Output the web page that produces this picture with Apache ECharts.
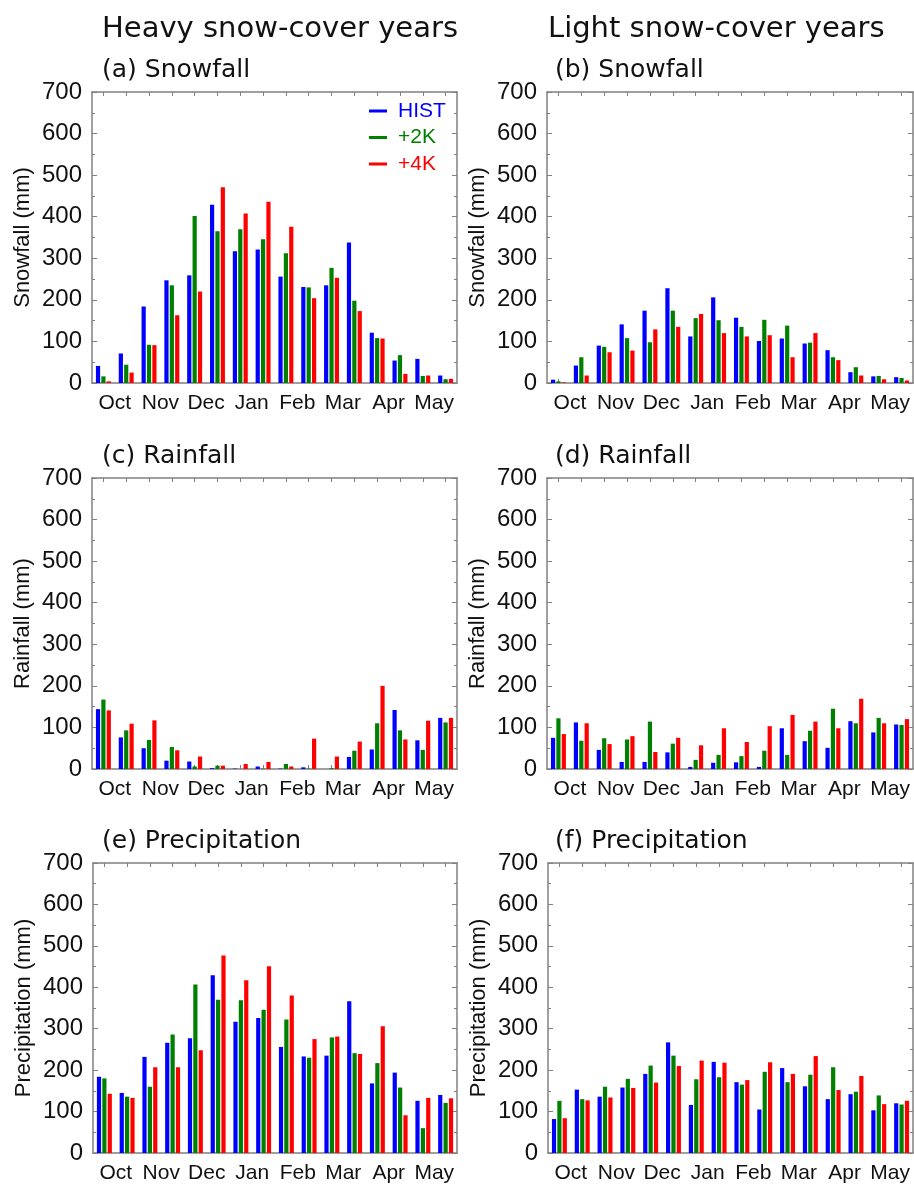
<!DOCTYPE html>
<html><head><meta charset="utf-8">
<script src="https://cdn.jsdelivr.net/npm/echarts@6/dist/echarts.min.js"></script>
<style>html,body{margin:0;padding:0;background:#fff}#c{width:914px;height:1184px}</style>
</head><body><div id="c"></div>
<script>
const halves = ['Oct-1','Oct-2','Nov-1','Nov-2','Dec-1','Dec-2','Jan-1','Jan-2','Feb-1','Feb-2','Mar-1','Mar-2','Apr-1','Apr-2','May-1','May-2'];
const months = ['Oct','Nov','Dec','Jan','Feb','Mar','Apr','May'];
const seriesNames = ['HIST','+2K','+4K'];
const seriesColors = ['#0000ff','#008000','#ff0000'];

const snowHeavyHist = [41,71,184,247,259,429,317,321,256,231,235,338,121,54,58,18];
const snowHeavy2K   = [16,44,92,235,402,365,370,346,312,230,277,198,108,67,17,9];
const snowHeavy4K   = [4,25,91,163,220,471,408,436,376,204,253,173,107,22,18,10];

const snowLightHist = [8,42,90,141,174,228,112,206,157,101,107,95,79,26,16,14];
const snowLight2K   = [4,62,87,108,98,174,156,151,135,152,138,97,62,38,17,12];
const snowLight4K   = [1.5,18,74,78,129,135,166,120,112,115,62,120,55,18,9,6];

const rainHeavyHist = [144,76,50,20,18,2,1,6,1,4,0,29,47,142,69,123];
const rainHeavy2K   = [167,93,70,53,6,8,0,1,12,1,2,44,110,93,46,112];
const rainHeavy4K   = [141,109,117,45,30,8,12,17,6,73,30,66,200,71,116,123];

const rainLightHist = [75,112,46,17,17,40,5,15,16,5,98,67,51,115,88,107];
const rainLight2K   = [122,68,74,71,114,61,22,34,31,44,34,92,145,110,123,106];
const rainLight4K   = [84,110,60,79,41,75,57,98,65,103,130,114,98,169,110,120];

const precHeavyHist = [184,145,232,266,277,429,317,326,256,233,235,366,168,194,126,140];
const precHeavy2K   = [180,136,160,286,407,370,369,346,322,230,279,241,217,158,60,121];
const precHeavy4K   = [143,133,207,207,248,477,417,451,380,275,281,239,306,91,133,132];

const precLightHist = [82,153,136,158,191,267,116,220,171,105,205,161,130,142,103,120];
const precLight2K   = [126,130,160,179,211,235,178,183,165,196,171,189,207,148,139,117];
const precLight4K   = [84,127,134,157,170,210,223,218,176,219,191,234,152,186,118,126];

const yMin = 0, yMax = 700, yStep = 100;

const panels = [
  {label:'(a) Snowfall', yName:'Snowfall (mm)', data:[snowHeavyHist,snowHeavy2K,snowHeavy4K]},
  {label:'(b) Snowfall', yName:'Snowfall (mm)', data:[snowLightHist,snowLight2K,snowLight4K]},
  {label:'(c) Rainfall', yName:'Rainfall (mm)', data:[rainHeavyHist,rainHeavy2K,rainHeavy4K]},
  {label:'(d) Rainfall', yName:'Rainfall (mm)', data:[rainLightHist,rainLight2K,rainLight4K]},
  {label:'(e) Precipitation', yName:'Precipitation (mm)', data:[precHeavyHist,precHeavy2K,precHeavy4K]},
  {label:'(f) Precipitation', yName:'Precipitation (mm)', data:[precLightHist,precLight2K,precLight4K]}
];

const gridPos = [
  {left:92, top:92, width:365, height:291},
  {left:547, top:92, width:366, height:291},
  {left:92, top:478, width:365, height:291},
  {left:547, top:478, width:366, height:291},
  {left:93, top:863, width:364, height:291},
  {left:548, top:863, width:365, height:291}
];
const labelPos = [[97,53],[550,53],[97,439],[550,439],[97,824],[550,824]];

const axisGray = '#808080';
const txt = '#111111';
const grids = [], xAxes = [], yAxes = [], series = [];
const titles = [
  {text:'Heavy snow-cover years', left:97, top:10, textStyle:{fontFamily:'DejaVu Sans', fontSize:29, fontWeight:'normal', color:txt}},
  {text:'Light snow-cover years', left:543, top:10, textStyle:{fontFamily:'DejaVu Sans', fontSize:29, fontWeight:'normal', color:txt}}
];

panels.forEach((p, i) => {
  grids.push(Object.assign({containLabel:false}, gridPos[i]));
  titles.push({text:p.label, left:labelPos[i][0], top:labelPos[i][1], textStyle:{fontFamily:'DejaVu Sans', fontSize:25, fontWeight:'normal', color:txt}});
  const xi = xAxes.length;
  xAxes.push({type:'category', gridIndex:i, data:halves, position:'bottom', boundaryGap:true,
    axisLine:{show:true, lineStyle:{color:axisGray, width:1.5}},
    axisTick:{show:true, inside:true, alignWithLabel:true, interval:0, length:4, lineStyle:{color:axisGray}},
    axisLabel:{show:false}, splitLine:{show:false}});
  xAxes.push({type:'category', gridIndex:i, data:months, position:'bottom', boundaryGap:true,
    axisLine:{show:false}, axisTick:{show:false},
    axisLabel:{show:true, interval:0, margin:10, fontFamily:'Liberation Sans', fontSize:21, color:txt}, splitLine:{show:false}});
  xAxes.push({type:'category', gridIndex:i, data:halves, position:'top', boundaryGap:true,
    axisLine:{show:true, lineStyle:{color:axisGray, width:1.5}},
    axisTick:{show:true, inside:true, alignWithLabel:true, interval:0, length:4, lineStyle:{color:axisGray}},
    axisLabel:{show:false}, splitLine:{show:false}});
  const yi = yAxes.length;
  yAxes.push({type:'value', gridIndex:i, min:yMin, max:yMax, interval:yStep, position:'left',
    name:p.yName, nameLocation:'middle', nameGap:58, nameRotate:90,
    nameTextStyle:{fontFamily:'Liberation Sans', fontSize:22, color:txt},
    axisLine:{show:true, lineStyle:{color:axisGray, width:1.5}},
    axisTick:{show:true, inside:true, length:5, lineStyle:{color:axisGray}},
    minorTick:{show:true, splitNumber:2, length:3, lineStyle:{color:axisGray}},
    axisLabel:{fontFamily:'Liberation Sans', fontSize:24, color:txt, margin:10},
    splitLine:{show:false}});
  yAxes.push({type:'value', gridIndex:i, min:yMin, max:yMax, interval:yStep, position:'right',
    axisLine:{show:true, lineStyle:{color:axisGray, width:1.5}},
    axisTick:{show:true, inside:true, length:5, lineStyle:{color:axisGray}},
    minorTick:{show:true, splitNumber:2, length:3, lineStyle:{color:axisGray}},
    axisLabel:{show:false}, splitLine:{show:false}});
  p.data.forEach((arr, k) => {
    series.push({type:'bar', name:seriesNames[k], xAxisIndex:xi, yAxisIndex:yi, data:arr,
      barWidth:4.2, barGap:'28%', itemStyle:{color:seriesColors[k]}, animation:false});
  });
});

const chart = echarts.init(document.getElementById('c'), null, {renderer:'canvas'});
chart.setOption({
  backgroundColor:'#ffffff',
  animation:false,
  title:titles,
  legend:{show:true, orient:'vertical', left:369, top:100, padding:0, itemGap:4.5,
    itemWidth:18, itemHeight:3, icon:'rect',
    data:seriesNames.map((n,k)=>({name:n, textStyle:{color:seriesColors[k]}})),
    textStyle:{fontFamily:'Liberation Sans', fontSize:21, lineHeight:22, padding:[0,0,0,6]}},
  grid:grids, xAxis:xAxes, yAxis:yAxes, series:series
});
</script></body></html>
